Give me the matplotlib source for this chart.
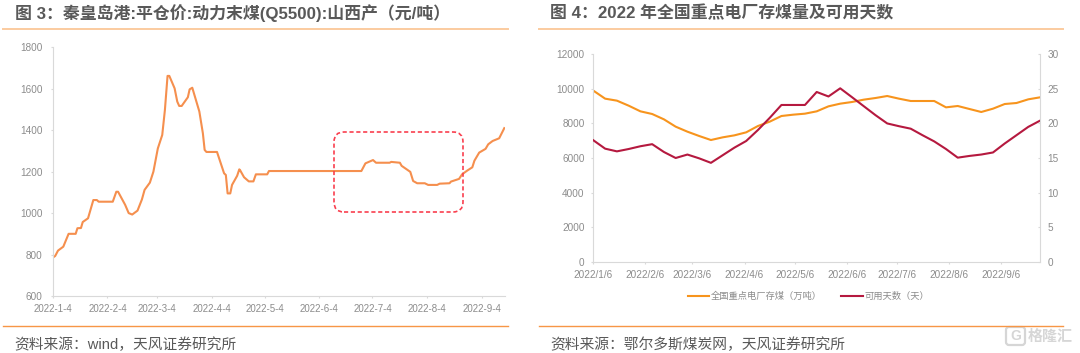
import matplotlib
matplotlib.use("Agg")

import matplotlib.dates as mdates
import matplotlib.pyplot as plt
import pandas as pd
from matplotlib import transforms
from matplotlib.lines import Line2D
from matplotlib.patches import FancyBboxPatch

plt.rcParams["font.family"] = ["Liberation Sans", "Noto Sans CJK SC", "DejaVu Sans"]

W, H = 1080, 353

# 图 3: days after 2022-01-04 and price
PRICE_DAYS = [
    0, 1.4, 3, 6, 9, 13, 14, 16, 17, 20, 23, 25, 26, 34, 36, 37, 41, 43, 45, 48,
    50.5, 52, 55, 57, 59.5, 62, 63.5, 65, 66, 69, 70.5, 71.6, 73, 76.5, 77.5, 79,
    83, 85, 86, 87, 93, 97, 98, 99, 100.5, 101.5, 104.4, 105.6, 106, 108.3, 111,
    113.6, 115, 121.4, 122.4, 174.7, 177, 181.3, 183, 190.7, 191.6, 196.5, 197.5,
    202.4, 204, 206.3, 210.6, 212.5, 217.6, 219, 224.6, 225.4, 230, 231.7, 234.6,
    237.5, 238.7, 241.4, 245, 246.5, 249, 252.7, 255.6,
]
PRICE = [
    785, 793, 819, 838, 900, 900, 927, 928, 957, 975, 1063, 1063, 1055, 1055, 1103,
    1103, 1040, 1000, 993, 1012, 1066, 1112, 1147, 1200, 1312, 1377, 1497, 1662,
    1662, 1602, 1538, 1517, 1517, 1559, 1597, 1605, 1490, 1385, 1305, 1295, 1295,
    1192, 1184, 1095, 1095, 1136, 1180, 1211, 1208, 1173, 1153, 1153, 1187, 1187,
    1203, 1203, 1240, 1256, 1243, 1243, 1247, 1243, 1228, 1199, 1155, 1144, 1144,
    1136, 1136, 1142, 1144, 1152, 1165, 1187, 1205, 1221, 1253, 1292, 1310, 1332,
    1348, 1361, 1410,
]
PRICE_TICKS = ["2022-01-04", "2022-02-04", "2022-03-04", "2022-04-04", "2022-05-04",
               "2022-06-04", "2022-07-04", "2022-08-04", "2022-09-04"]
PRICE_LABELS = ["2022-1-4", "2022-2-4", "2022-3-4", "2022-4-4", "2022-5-4",
                "2022-6-4", "2022-7-4", "2022-8-4", "2022-9-4"]

# 图 4: weekly from 2022-01-06
STOCK = [
    9896, 9433, 9318, 9028, 8700, 8546, 8237, 7813, 7523, 7273, 7041, 7195, 7311,
    7485, 7851, 8102, 8430, 8507, 8565, 8700, 8989, 9144, 9240, 9375, 9471, 9587,
    9433, 9298, 9298, 9298, 8931, 9009, 8835, 8662, 8854, 9124, 9182, 9394, 9510,
]
USABLE_DAYS = [
    17.56, 16.35, 15.96, 16.3, 16.7, 17.0, 15.87, 15.0, 15.5, 14.95, 14.3, 15.4,
    16.5, 17.46, 19.05, 20.8, 22.67, 22.67, 22.67, 24.55, 23.9, 25.08, 23.8, 22.5,
    21.2, 20.0, 19.6, 19.24, 18.3, 17.4, 16.3, 15.05, 15.3, 15.5, 15.8, 17.1, 18.3,
    19.5, 20.4,
]
STOCK_TICKS = ["2022-01-06", "2022-02-06", "2022-03-06", "2022-04-06", "2022-05-06",
               "2022-06-06", "2022-07-06", "2022-08-06", "2022-09-06"]
STOCK_LABELS = ["2022/1/6", "2022/2/6", "2022/3/6", "2022/4/6", "2022/5/6",
                "2022/6/6", "2022/7/6", "2022/8/6", "2022/9/6"]

GREY = "#8c8c8c"
TEXT = "#595959"
AXIS = "#d9d9d9"
ORANGE = "#f79646"
MARK = "#d6d6d6"


def px_axes(fig, left, top, right, bottom):
    return fig.add_axes([left / W, 1 - bottom / H, (right - left) / W, (bottom - top) / H])


def fig_text(fig, x, y, s, size, **kw):
    fig.text(x / W, 1 - y / H, s, fontsize=size, va="center", **kw)


def fig_line(fig, x0, x1, y, color, lw):
    fig.add_artist(Line2D([x0 / W, x1 / W], [1 - y / H, 1 - y / H], color=color, lw=lw,
                          transform=fig.transFigure))


def px_round_box(fig, left, top, right, bottom, radius, **kw):
    # box in image pixels, y counted from the top
    box = FancyBboxPatch((left + radius, H - bottom + radius),
                         right - left - 2 * radius, bottom - top - 2 * radius,
                         boxstyle=f"round,pad={radius},rounding_size={radius}",
                         fill=False, transform=transforms.IdentityTransform(), **kw)
    fig.add_artist(box)


def style_axis(ax, xsize, xpad, ypad):
    for side in ["top", "right"]:
        ax.spines[side].set_visible(False)
    ax.spines["left"].set_color(AXIS)
    ax.spines["bottom"].set_color(AXIS)
    ax.tick_params(axis="x", color=AXIS, length=1.5, width=0.8, labelcolor=GREY,
                   labelsize=xsize, pad=xpad)
    ax.tick_params(axis="y", color=AXIS, length=1.5, width=0.8, labelcolor=GREY,
                   labelsize=7.2, pad=ypad)
    ax.patch.set_alpha(0)


fig = plt.figure(figsize=(W / 100, H / 100), dpi=100, facecolor="white")

# left panel
ax1 = px_axes(fig, 52.7, 47.3, 505, 296)
dates1 = pd.Timestamp("2022-01-04") + pd.to_timedelta(PRICE_DAYS, unit="D")
ax1.plot(dates1, PRICE, color="#f58f4e", lw=1.5, solid_joinstyle="round")
ax1.set_ylim(600, 1800)
ax1.set_xlim(pd.Timestamp("2022-01-04"), pd.Timestamp("2022-09-17"))
ax1.set_yticks(range(600, 1801, 200))
ax1.set_xticks([mdates.date2num(pd.Timestamp(d)) for d in PRICE_TICKS])
ax1.set_xticklabels(PRICE_LABELS)
style_axis(ax1, 7, 3.9, 6)

# dashed highlight box
px_round_box(fig, 334, 132, 463, 212, 10, edgecolor="#f9404f", lw=1.2,
             linestyle=(0, (2.5, 1.6)))

# right panel
ax2 = px_axes(fig, 593.4, 54.3, 1040, 261.7)
dates2 = pd.date_range("2022-01-06", periods=len(STOCK), freq="7D")
line_stock, = ax2.plot(dates2, STOCK, color="#f7941d", lw=1.5, label="全国重点电厂存煤（万吨）")
ax2.set_ylim(0, 12000)
ax2.set_xlim(pd.Timestamp("2022-01-06"), pd.Timestamp("2022-09-29"))
ax2.set_yticks(range(0, 12001, 2000))
ax2.set_xticks([mdates.date2num(pd.Timestamp(d)) for d in STOCK_TICKS])
ax2.set_xticklabels(STOCK_LABELS)
style_axis(ax2, 7.2, 4.7, 4.8)

ax3 = ax2.twinx()
line_days, = ax3.plot(dates2, USABLE_DAYS, color="#b5193f", lw=1.5, label="可用天数（天）")
ax3.set_ylim(0, 30)
ax3.set_yticks(range(0, 31, 5))
for side in ["top", "left", "bottom"]:
    ax3.spines[side].set_visible(False)
ax3.spines["right"].set_color(AXIS)
ax3.tick_params(axis="y", direction="in", color=AXIS, length=1.5, width=0.8,
                labelcolor=GREY, labelsize=7.2, pad=5.5)

fig.legend(handles=[line_stock, line_days], loc="center", ncol=2,
           bbox_to_anchor=(808.5 / W, 1 - 296.7 / H), frameon=False, fontsize=6.7,
           labelcolor=GREY, handlelength=2.33, handletextpad=0.2, columnspacing=2.05)

# titles, rules, sources
title_kw = {"color": TEXT, "fontweight": "bold"}
fig_text(fig, 15, 13, "图 3：秦皇岛港:平仓价:动力末煤(Q5500):山西产（元/吨）", 12.2, **title_kw)
fig_text(fig, 550, 13, "图 4：2022 年全国重点电厂存煤量及可用天数", 12.15, **title_kw)
fig_line(fig, 3.3, 508.3, 29, "#fbcb9f", 1.4)
fig_line(fig, 539, 1062.7, 29, "#fbcb9f", 1.4)
fig_line(fig, 3.3, 508.3, 326.4, ORANGE, 1.0)
fig_line(fig, 539, 1062.7, 326.4, ORANGE, 1.0)
fig_text(fig, 14.5, 344.5, "资料来源：wind，天风证券研究所", 10.6, color=TEXT)
fig_text(fig, 550, 344.5, "资料来源：鄂尔多斯煤炭网，天风证券研究所", 10.65, color=TEXT)

# watermark
px_round_box(fig, 1006, 327, 1025, 345, 3, edgecolor=MARK, lw=1.6)
fig_text(fig, 1015.5, 336.5, "G", 10, color=MARK, fontweight="bold", ha="center")
fig_text(fig, 1028, 337, "格隆汇", 10.8, color=MARK, fontweight="bold")

fig.savefig("out.png", dpi=100, facecolor="white")
